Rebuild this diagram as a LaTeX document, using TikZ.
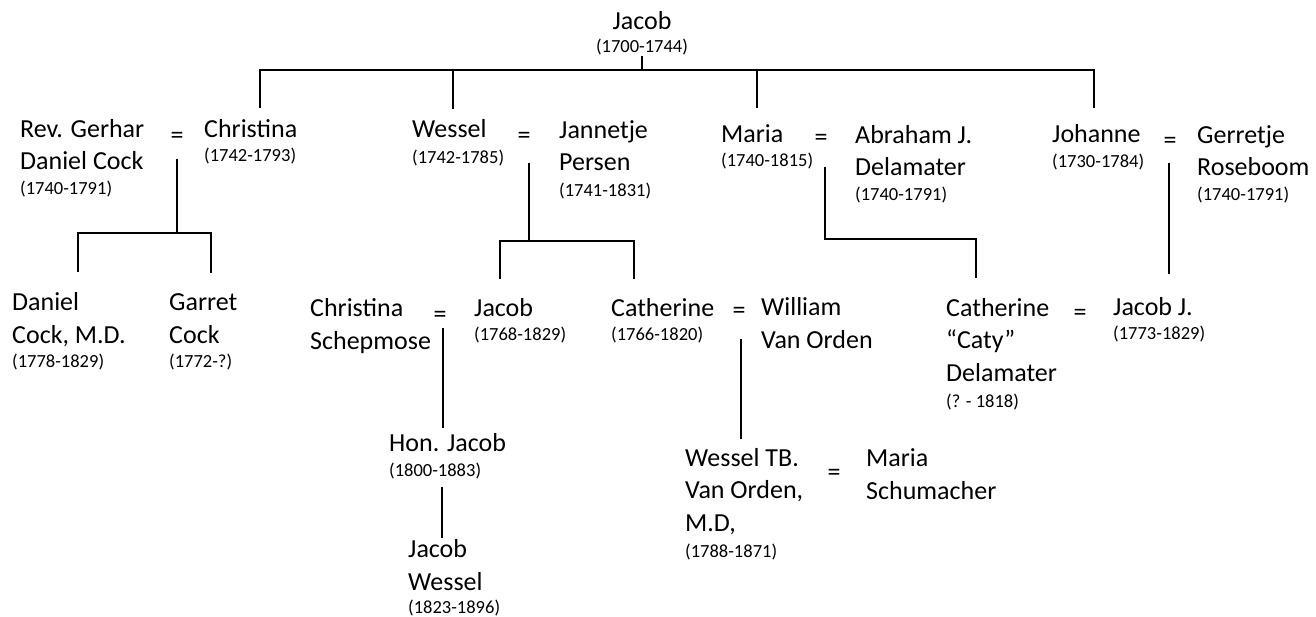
\documentclass[tikz,border=0pt]{standalone}
\usepackage{fontspec}
\setmainfont{Carlito}
\usetikzlibrary{positioning, calc}
\newcommand{\lifespan}[1]{{\fontsize{18.5}{22}\selectfont #1}}
\tikzset{
    % anchored at the baseline of the last line
    person/.style={
        anchor=base west, align=left, inner sep=0pt, font=\fontsize{26}{32.5}\selectfont
    },
    marry/.style={
        inner sep=0pt, font=\fontsize{26}{32.5}\selectfont
    },
    line/.style={
        line width=2.4pt
    }
}
\begin{document}
\begin{tikzpicture}[x=1pt, y=-1pt]
    \useasboundingbox (0,0) rectangle (1316,617);

    % --- generation 1 ---
    \node[person, anchor=base, align=center] (jacob) at (642,53) {Jacob\\[-9.5pt]\lifespan{(1700-1744)}};

    % --- generation 2 ---
    \node[person] (gerhar) at (20,195) {Rev. Gerhar\\Daniel Cock\\[-7.5pt]\lifespan{(1740-1791)}};
    \node[marry] (eqa) at (177,138) {=};
    \node[person] (christina) at (204,162) {Christina\\[-8.5pt]\lifespan{(1742-1793)}};

    \node[person] (wessel) at (412,164) {Wessel\\[-6.5pt]\lifespan{(1742-1785)}};
    \node[marry] (eqb) at (524,138) {=};
    \node[person] (jannetje) at (559,197) {Jannetje\\Persen\\[-6.5pt]\lifespan{(1741-1831)}};

    \node[person] (maria) at (721,167) {Maria\\[-8.5pt]\lifespan{(1740-1815)}};
    \node[marry] (eqc) at (821,140) {=};
    \node[person] (abraham) at (855,201) {Abraham J.\\Delamater\\[-7.5pt]\lifespan{(1740-1791)}};

    \node[person] (johanne) at (1052,168) {Johanne\\[-7.5pt]\lifespan{(1730-1784)}};
    \node[marry] (eqd) at (1170,143) {=};
    \node[person] (gerretje) at (1197,201) {Gerretje\\Roseboom\\[-7.5pt]\lifespan{(1740-1791)}};

    % --- generation 3 ---
    \node[person] (daniel) at (12,367) {Daniel\\Cock, M.D.\\[-8.5pt]\lifespan{(1778-1829)}};
    \node[person] (garret) at (169,367) {Garret\\Cock\\[-8.5pt]\lifespan{(1772-?)}};

    \node[person] (schepmose) at (310,349) {Christina\\Schepmose};
    \node[marry] (eqe) at (440,317) {=};
    \node[person] (jacobii) at (474,340) {Jacob\\[-8.5pt]\lifespan{(1768-1829)}};

    \node[person] (catherine) at (611,340) {Catherine\\[-8.5pt]\lifespan{(1766-1820)}};
    \node[marry] (eqf) at (739,313) {=};
    \node[person] (william) at (761,348) {William\\Van Orden};

    \node[person] (caty) at (946,407) {Catherine\\“Caty”\\Delamater\\[-6.5pt]\lifespan{(? - 1818)}};
    \node[marry] (eqg) at (1080,315) {=};
    \node[person] (jacobj) at (1113,339) {Jacob J.\\[-8.5pt]\lifespan{(1773-1829)}};

    % --- generation 4 and 5 ---
    \node[person] (honjacob) at (389,476) {Hon. Jacob\\[-7.5pt]\lifespan{(1800-1883)}};
    \node[person] (wesseltb) at (685,557) {Wessel TB.\\Van Orden,\\M.D,\\[-6.5pt]\lifespan{(1788-1871)}};
    \node[marry] (eqh) at (834,475) {=};
    \node[person] (mariaschu) at (866,499) {Maria\\Schumacher};
    \node[person] (jacobw) at (408,613) {Jacob\\Wessel\\[-9.5pt]\lifespan{(1823-1896)}};

    % --- connectors ---
    \coordinate (top) at (642,70);
    \coordinate (ja) at (177,233);
    \coordinate (jb) at (529,241);
    \coordinate (jc) at (825,239);

    \draw[line] (jacob.south) -- (top);
    \draw[line] ($(christina.north west)+(56,-12)$) |- (top) -| ($(johanne.north west)+(42,-17)$);
    \draw[line] ($(wessel.north west)+(41,-11)$) |- (top);
    \draw[line] ($(maria.north west)+(36,-17)$) |- (top);

    \draw[line] ($(eqa)+(0,21)$) -- (ja);
    \draw[line] ($(daniel.north west)+(66,-20)$) |- (ja) -| ($(garret.north west)+(42,-20)$);

    \draw[line] ($(eqb)+(5,25)$) -- (jb);
    \draw[line] ($(jacobii.north west)+(26,-19)$) |- (jb) -| ($(catherine.north west)+(23,-19)$);

    \draw[line] ($(eqc)+(4,27)$) -- (jc) -| ($(caty.north west)+(30,-20)$);

    \draw[line] ($(eqd)+(-1,20)$) -- ($(jacobj.north west)+(56,-23)$);

    \draw[line] ($(eqe)+(3,11)$) -- ($(honjacob.north west)+(54,-5)$);
    \draw[line] ($(honjacob.south west)+(53,8)$) -- ($(jacobw.north west)+(34,-1)$);
    \draw[line] ($(eqf)+(2,26)$) -- ($(wesseltb.north west)+(56,-9)$);
\end{tikzpicture}
\end{document}
